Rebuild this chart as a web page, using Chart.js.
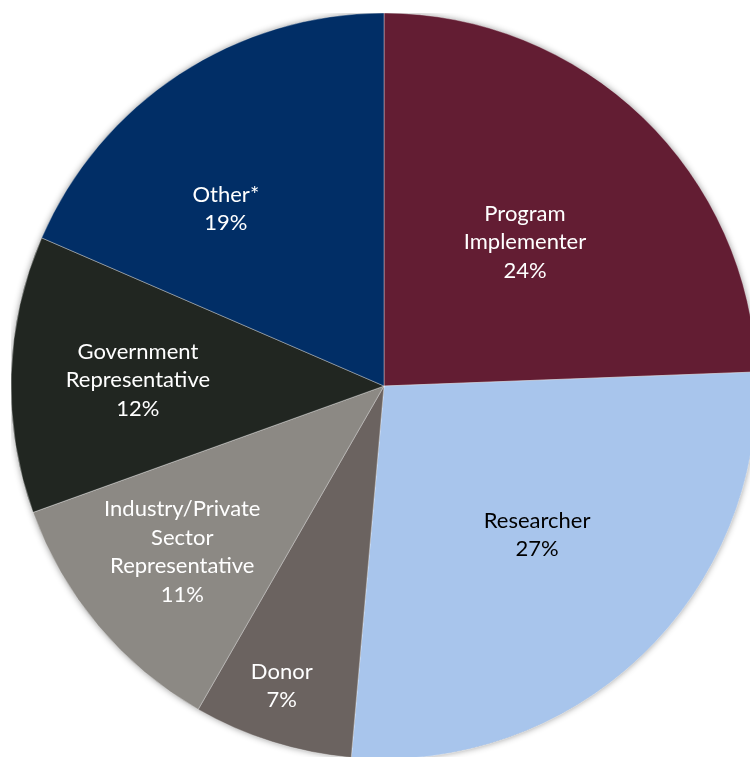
<!DOCTYPE html>
<html>
<head>
<meta charset="utf-8">
<script src="https://cdn.jsdelivr.net/npm/chart.js@4.4.1/dist/chart.umd.min.js"></script>
<style>
  html, body { margin: 0; padding: 0; background: #ffffff; overflow: hidden; width: 750px; height: 757px; }
  #wrap { position: absolute; left: 11px; top: 13px; width: 746px; height: 746px; }
</style>
</head>
<body>
<div id="wrap"><canvas id="c"></canvas></div>
<script>
const categories = [
  ["Program", "Implementer"],
  ["Researcher"],
  ["Donor"],
  ["Industry/Private", "Sector", "Representative"],
  ["Government", "Representative"],
  ["Other*"]
];
const shares = [24.4, 27.0, 6.9, 11.2, 12.0, 18.5];
const sliceColors = ["#631D33", "#A8C5EC", "#6B6360", "#8C8984", "#212621", "#012E66"];
const labelColors = ["#ffffff", "#000000", "#ffffff", "#ffffff", "#ffffff", "#ffffff"];
// label placement: radius fraction and angle tweak (deg) per slice
const labelRadius = [0.54, 0.573, 0.85, 0.70, 0.66, 0.636];
const labelAngleShift = [0.5, -2.2, 1.35, 0.55, -0.4, -8.5];

const shadowPlugin = {
  id: 'shadowPlugin',
  beforeDatasetsDraw(chart) {
    const meta = chart.getDatasetMeta(0);
    if (!meta.data.length) return;
    const a = meta.data[0];
    const ctx = chart.ctx;
    ctx.save();
    ctx.shadowColor = 'rgba(0,0,0,0.45)';
    ctx.shadowBlur = 7;
    ctx.shadowOffsetX = 0;
    ctx.shadowOffsetY = 0;
    ctx.fillStyle = '#555';
    ctx.beginPath();
    ctx.arc(a.x, a.y, a.outerRadius - 0.5, 0, Math.PI * 2);
    ctx.fill();
    ctx.restore();
  }
};

const labelPlugin = {
  id: 'sliceLabels',
  afterDatasetsDraw(chart) {
    const meta = chart.getDatasetMeta(0);
    const ctx = chart.ctx;
    ctx.save();
    ctx.font = '22px "Lato", "Open Sans", sans-serif';
    ctx.textAlign = 'center';
    ctx.textBaseline = 'middle';
    const lineH = 28.5;
    meta.data.forEach((arc, i) => {
      const mid = (arc.startAngle + arc.endAngle) / 2 + labelAngleShift[i] * Math.PI / 180;
      const r = arc.outerRadius * labelRadius[i];
      const cx = arc.x + Math.cos(mid) * r;
      const cy = arc.y + Math.sin(mid) * r;
      const lines = categories[i].concat([Math.round(shares[i]) + '%']);
      const y0 = cy - (lines.length - 1) * lineH / 2;
      ctx.fillStyle = labelColors[i];
      lines.forEach((t, k) => ctx.fillText(t, cx, y0 + k * lineH));
    });
    ctx.restore();
  }
};

new Chart(document.getElementById('c'), {
  type: 'pie',
  data: {
    labels: categories.map(c => c.join(' ')),
    datasets: [{
      data: shares,
      backgroundColor: sliceColors,
      borderColor: 'rgba(255,255,255,0.45)',
      borderWidth: 0.8,
      hoverOffset: 0
    }]
  },
  options: {
    responsive: true,
    maintainAspectRatio: false,
    animation: false,
    radius: 373,
    layout: { padding: 0 },
    plugins: {
      legend: { display: false },
      tooltip: { enabled: false }
    }
  },
  plugins: [shadowPlugin, labelPlugin]
});
</script>
</body>
</html>
